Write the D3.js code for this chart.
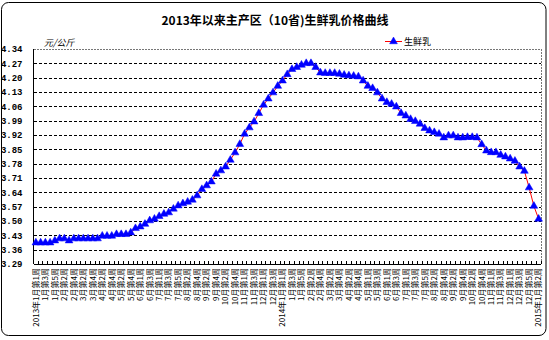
<!DOCTYPE html>
<html>
<head>
<meta charset="utf-8">
<script src="https://cdn.jsdelivr.net/npm/d3@7"></script>
<style>
  html, body { margin: 0; padding: 0; background: #fff; }
  svg { display: block; }
  text { font-family: "Noto Sans CJK SC", "DejaVu Sans", sans-serif; fill: #000; }
</style>
</head>
<body>
<svg id="chart" width="549" height="340"></svg>
<script>
// Weekly categories, 2013 week 1 through 2015 January week 2
const weeks = [
  "2013年1月第1周","1月第2周","1月第3周","1月第4周","1月第5周",
  "2月第1周","2月第2周","2月第3周","2月第4周",
  "3月第1周","3月第2周","3月第3周","3月第4周",
  "4月第1周","4月第2周","4月第3周","4月第4周",
  "5月第1周","5月第2周","5月第3周","5月第4周","5月第5周",
  "6月第1周","6月第2周","6月第3周","6月第4周",
  "7月第1周","7月第2周","7月第3周","7月第4周","7月第5周",
  "8月第1周","8月第2周","8月第3周","8月第4周",
  "9月第1周","9月第2周","9月第3周","9月第4周",
  "10月第1周","10月第2周","10月第3周","10月第4周","10月第5周",
  "11月第1周","11月第2周","11月第3周","11月第4周",
  "12月第1周","12月第2周","12月第3周","12月第4周",
  "2014年1月第1周","1月第2周","1月第3周","1月第4周","1月第5周",
  "2月第1周","2月第2周","2月第3周","2月第4周",
  "3月第1周","3月第2周","3月第3周","3月第4周",
  "4月第1周","4月第2周","4月第3周","4月第4周","4月第5周",
  "5月第1周","5月第2周","5月第3周","5月第4周",
  "6月第1周","6月第2周","6月第3周","6月第4周",
  "7月第1周","7月第2周","7月第3周","7月第4周","7月第5周",
  "8月第1周","8月第2周","8月第3周","8月第4周",
  "9月第1周","9月第2周","9月第3周","9月第4周",
  "10月第1周","10月第2周","10月第3周","10月第4周","10月第5周",
  "11月第1周","11月第2周","11月第3周","11月第4周",
  "12月第1周","12月第2周","12月第3周","12月第4周","12月第5周",
  "2015年1月第1周","2015年1月第2周"
];

// Raw milk price, 元/公斤
const prices = [
  3.394, 3.394, 3.394, 3.394, 3.404, 3.414, 3.414, 3.404, 3.414, 3.414,
  3.414, 3.414, 3.414, 3.414, 3.427, 3.427, 3.427, 3.435, 3.435, 3.435,
  3.443, 3.464, 3.472, 3.485, 3.502, 3.510, 3.523, 3.534, 3.541, 3.559,
  3.575, 3.585, 3.593, 3.603, 3.624, 3.655, 3.673, 3.692, 3.730, 3.746,
  3.765, 3.798, 3.834, 3.875, 3.925, 3.956, 3.985, 4.026, 4.067, 4.097,
  4.127, 4.159, 4.185, 4.216, 4.241, 4.251, 4.262, 4.270, 4.270, 4.251,
  4.224, 4.222, 4.222, 4.222, 4.218, 4.213, 4.210, 4.208, 4.205, 4.185,
  4.159, 4.148, 4.127, 4.097, 4.080, 4.071, 4.058, 4.026, 4.014, 3.997,
  3.987, 3.974, 3.953, 3.941, 3.933, 3.925, 3.907, 3.917, 3.917, 3.907,
  3.907, 3.909, 3.909, 3.907, 3.874, 3.843, 3.835, 3.835, 3.822, 3.814,
  3.804, 3.793, 3.765, 3.744, 3.663, 3.573, 3.510
];

const yTicks = [3.29, 3.36, 3.43, 3.50, 3.57, 3.64, 3.71, 3.78, 3.85, 3.92, 3.99, 4.06, 4.13, 4.20, 4.27, 4.34];

const titleText = "2013年以来主产区（10省)生鲜乳价格曲线";
const unitText = "元/公斤";
const seriesName = "生鲜乳";

const plot = { left: 33.5, right: 541, top: 49, bottom: 264 };
const svg = d3.select("#chart");

// chart frame
svg.append("rect")
  .attr("x", 1.5).attr("y", 2.5)
  .attr("width", 544.5).attr("height", 333)
  .attr("rx", 7).attr("ry", 7)
  .attr("fill", "#fff").attr("stroke", "#000").attr("stroke-width", 1);

const x = d3.scaleBand().domain(d3.range(weeks.length)).range([plot.left, plot.right]).padding(0);
const y = d3.scaleLinear().domain([yTicks[0], yTicks[yTicks.length - 1]]).range([plot.bottom, plot.top]);
const cx = i => x(i) + x.bandwidth() / 2;

// horizontal gridlines
const grid = svg.append("g")
  .attr("transform", `translate(${plot.left},0)`)
  .call(d3.axisLeft(y).tickValues(yTicks.slice(1, -1)).tickSize(-(plot.right - plot.left)).tickFormat(""));
grid.select(".domain").remove();
grid.selectAll(".tick line")
  .attr("stroke", "#000").attr("stroke-width", 1).attr("stroke-dasharray", "3,2")
  .attr("shape-rendering", "crispEdges");

// plot area top and right edges (dotted)
svg.append("path")
  .attr("d", `M${plot.left},${plot.top + 0.5}H${plot.right + 0.5}V${plot.bottom}`)
  .attr("fill", "none").attr("stroke", "#777").attr("stroke-width", 1)
  .attr("stroke-dasharray", "2,1").attr("shape-rendering", "crispEdges");

// y axis labels
const yAxis = svg.append("g")
  .attr("transform", `translate(${plot.left},0)`)
  .call(d3.axisLeft(y).tickValues(yTicks).tickSize(0).tickPadding(11).tickFormat(d3.format(".2f")));
yAxis.select(".domain").remove();
yAxis.selectAll("text")
  .style("font-family", "'Liberation Mono', 'DejaVu Sans Mono', monospace")
  .style("font-size", "9px").style("font-weight", "bold");

// axis lines
svg.append("line")
  .attr("x1", plot.left).attr("x2", plot.left).attr("y1", plot.top).attr("y2", plot.bottom)
  .attr("stroke", "#000").attr("shape-rendering", "crispEdges");
svg.append("line")
  .attr("x1", plot.left).attr("x2", plot.right).attr("y1", plot.bottom).attr("y2", plot.bottom)
  .attr("stroke", "#000").attr("shape-rendering", "crispEdges");

// category boundary ticks along the x axis
const bounds = d3.range(weeks.length + 1).map(i => plot.left + i * x.step());
svg.append("g").selectAll("line").data(bounds).join("line")
  .attr("x1", d => d).attr("x2", d => d)
  .attr("y1", plot.bottom).attr("y2", plot.bottom - 3)
  .attr("stroke", "#000").attr("shape-rendering", "crispEdges");

// x axis labels, every other week, rotated
const xAxis = svg.append("g")
  .attr("transform", `translate(0,${plot.bottom})`)
  .call(d3.axisBottom(x).tickValues(d3.range(0, weeks.length, 2)).tickSize(0).tickFormat(i => weeks[i]));
xAxis.select(".domain").remove();
xAxis.selectAll("text")
  .attr("transform", "rotate(-90)")
  .attr("x", -4).attr("y", 0).attr("dy", "0.35em")
  .attr("text-anchor", "end")
  .style("font-size", "8px");

// price line
svg.append("path")
  .datum(prices)
  .attr("fill", "none").attr("stroke", "#ff0000").attr("stroke-width", 1)
  .attr("d", d3.line().x((d, i) => cx(i)).y(d => y(d)));

// triangle markers
const tri = d3.symbol().type(d3.symbolTriangle).size(26);
svg.append("g").selectAll("path").data(prices).join("path")
  .attr("transform", (d, i) => `translate(${cx(i)},${y(d)})`)
  .attr("d", tri)
  .attr("fill", "#0000ff").attr("stroke", "#0000ff").attr("stroke-width", 0.5);

// title
svg.append("text")
  .attr("x", 275).attr("y", 25)
  .attr("text-anchor", "middle")
  .style("font-size", "12px").style("font-weight", "bold")
  .text(titleText);

// unit
svg.append("text")
  .attr("x", 44).attr("y", 46)
  .style("font-size", "9px").style("font-style", "italic")
  .text(unitText);

// legend
const lg = svg.append("g").attr("transform", "translate(385,41.5)");
lg.append("line").attr("x1", 0).attr("x2", 17).attr("y1", 0).attr("y2", 0)
  .attr("stroke", "#ff0000").attr("stroke-width", 1);
lg.append("path").attr("transform", "translate(8.5,0)").attr("d", tri)
  .attr("fill", "#0000ff").attr("stroke", "#0000ff").attr("stroke-width", 0.5);
lg.append("text").attr("x", 19).attr("y", 3.5)
  .style("font-size", "9px").text(seriesName);
</script>
</body>
</html>
